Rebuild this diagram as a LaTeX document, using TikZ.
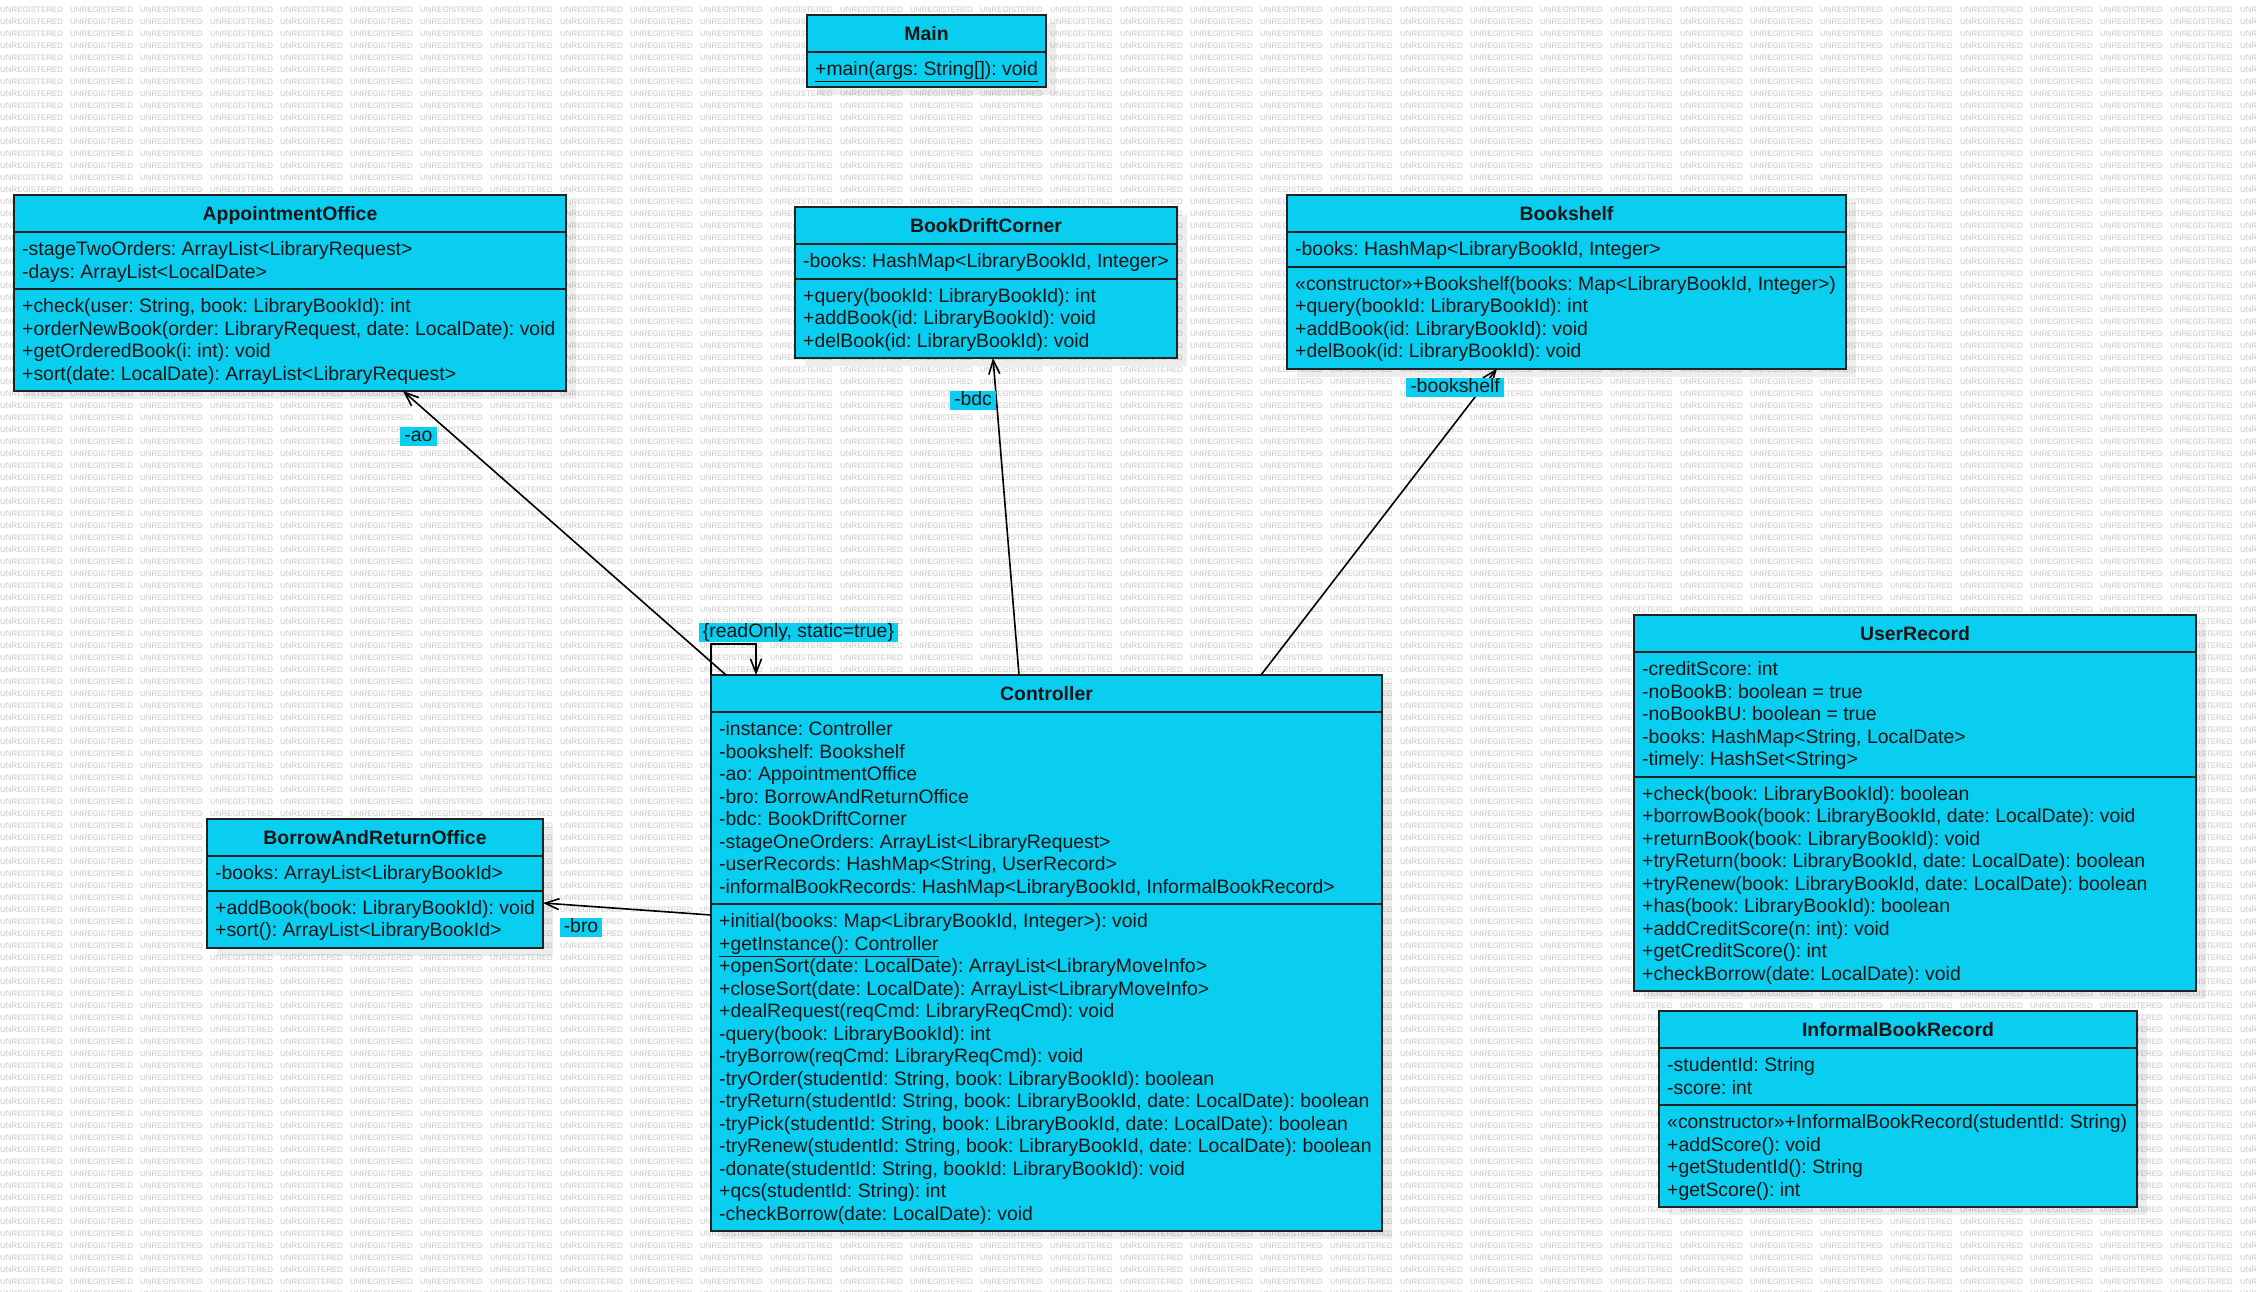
\documentclass[tikz,border=0pt]{standalone}
\usepackage{fontspec}
\setmainfont{Liberation Sans}
\usetikzlibrary{arrows.meta,calc}
\frenchspacing
\definecolor{umlcyan}{RGB}{10,206,240}
\definecolor{umledge}{RGB}{34,34,34}
\newcommand\membfont{\fontsize{19.4}{22.5}\selectfont\frenchspacing}
\newcommand\titlefont{\fontsize{19.4}{22.5}\selectfont\bfseries}
\newcommand\wmword{\makebox[70pt][l]{UNREGISTERED}}
\newcommand\wmfour{\wmword\wmword\wmword\wmword}
\newcommand\wmrow{\wmfour\wmfour\wmfour\wmfour\wmfour\wmfour\wmfour\wmfour\wmword}
\tikzset{
  classbox/.style={draw=umledge, line width=2pt, fill=umlcyan, inner sep=0pt, outer sep=0pt, rectangle},
  sepline/.style={draw=umledge, line width=2pt},
  shadowbox/.style={fill=black, fill opacity=0.07},
  titletext/.style={font=\titlefont, inner sep=0pt, anchor=base, text=black!92},
  membertext/.style={font=\membfont, inner sep=0pt, anchor=north west, align=left, text=black!92},
  assoc/.style={draw=black, line width=1.6pt, -{Straight Barb[length=14pt,width=11pt,line width=1.6pt]}},
  rolelabel/.style={fill=umlcyan, font=\membfont, inner xsep=4pt, inner ysep=0pt, text height=14.5pt, text depth=4.5pt, text=black!92},
  watermark/.style={font=\fontsize{7.9}{9}\selectfont, text=black!22, inner sep=0pt, anchor=base west}
}
% #1 name, #2 x, #3 y, #4 width, #5 title, #6 attr lines, #7 attrs, #8 op lines, #9 ops
\newcommand\umlclass[9]{%
  \pgfmathsetmacro\clsA{#6*22.5+12}%
  \pgfmathsetmacro\clsM{#8*22.5+12}%
  \pgfmathsetmacro\clsH{37+\clsA+\clsM}%
  \fill[shadowbox] (#2+10,#3+8) rectangle ++(#4,\clsH);%
  \node[classbox, minimum width=#4pt, minimum height=\clsH pt, anchor=north west] (#1) at (#2,#3) {};%
  \draw[sepline] (#2,#3+37) -- ++(#4,0);%
  \draw[sepline] (#2,#3+37+\clsA) -- ++(#4,0);%
  \node[titletext] (#1-title) at (#2+#4/2,#3+25) {#5};%
  \node[membertext] (#1-attrs) at (#2+8,#3+45) {#7};%
  \node[membertext] (#1-ops) at (#2+8,#3+45+\clsA) {#9};%
}
\begin{document}
\begin{tikzpicture}[x=1pt,y=-1pt]
\useasboundingbox (0,0) rectangle (2256,1291);
\fill[white] (0,0) rectangle (2256,1291);
\begin{scope}
  \clip (0,0) rectangle (2256,1291);
  \foreach \k in {1,...,108} {\node[watermark] (wm\k) at (0,12*\k) {\wmrow};}
\end{scope}

% Main
\fill[shadowbox] (817,23) rectangle ++(239,71.5);
\node[classbox, minimum width=239pt, minimum height=71.5pt, anchor=north west] (main) at (807,15) {};
\draw[sepline] (807,52) -- ++(239,0);
\node[titletext] (main-title) at (926.5,40) {Main};
\node[membertext] (main-ops) at (815,60) {\strut\underline{+main(args: String[]): void}};

\umlclass{ao}{14}{195}{552}{AppointmentOffice}{2}{%
\strut-stageTwoOrders: ArrayList<LibraryRequest>\\
\strut-days: ArrayList<LocalDate>}{4}{%
\strut+check(user: String, book: LibraryBookId): int\\
\strut+orderNewBook(order: LibraryRequest, date: LocalDate): void\\
\strut+getOrderedBook(i: int): void\\
\strut+sort(date: LocalDate): ArrayList<LibraryRequest>}

\umlclass{bdc}{795}{207}{382}{BookDriftCorner}{1}{%
\strut-books: HashMap<LibraryBookId, Integer>}{3}{%
\strut+query(bookId: LibraryBookId): int\\
\strut+addBook(id: LibraryBookId): void\\
\strut+delBook(id: LibraryBookId): void}

\umlclass{bs}{1287}{195}{559}{Bookshelf}{1}{%
\strut-books: HashMap<LibraryBookId, Integer>}{4}{%
\strut«constructor»+Bookshelf(books: Map<LibraryBookId, Integer>)\\
\strut+query(bookId: LibraryBookId): int\\
\strut+addBook(id: LibraryBookId): void\\
\strut+delBook(id: LibraryBookId): void}

\umlclass{ctrl}{711}{675}{671}{Controller}{8}{%
\strut-instance: Controller\\
\strut-bookshelf: Bookshelf\\
\strut-ao: AppointmentOffice\\
\strut-bro: BorrowAndReturnOffice\\
\strut-bdc: BookDriftCorner\\
\strut-stageOneOrders: ArrayList<LibraryRequest>\\
\strut-userRecords: HashMap<String, UserRecord>\\
\strut-informalBookRecords: HashMap<LibraryBookId, InformalBookRecord>}{14}{%
\strut+initial(books: Map<LibraryBookId, Integer>): void\\
\strut\underline{+getInstance(): Controller}\\
\strut+openSort(date: LocalDate): ArrayList<LibraryMoveInfo>\\
\strut+closeSort(date: LocalDate): ArrayList<LibraryMoveInfo>\\
\strut+dealRequest(reqCmd: LibraryReqCmd): void\\
\strut-query(book: LibraryBookId): int\\
\strut-tryBorrow(reqCmd: LibraryReqCmd): void\\
\strut-tryOrder(studentId: String, book: LibraryBookId): boolean\\
\strut-tryReturn(studentId: String, book: LibraryBookId, date: LocalDate): boolean\\
\strut-tryPick(studentId: String, book: LibraryBookId, date: LocalDate): boolean\\
\strut-tryRenew(studentId: String, book: LibraryBookId, date: LocalDate): boolean\\
\strut-donate(studentId: String, bookId: LibraryBookId): void\\
\strut+qcs(studentId: String): int\\
\strut-checkBorrow(date: LocalDate): void}

\umlclass{baro}{207}{819}{336}{BorrowAndReturnOffice}{1}{%
\strut-books: ArrayList<LibraryBookId>}{2}{%
\strut+addBook(book: LibraryBookId): void\\
\strut+sort(): ArrayList<LibraryBookId>}

\umlclass{ur}{1634}{615}{562}{UserRecord}{5}{%
\strut-creditScore: int\\
\strut-noBookB: boolean = true\\
\strut-noBookBU: boolean = true\\
\strut-books: HashMap<String, LocalDate>\\
\strut-timely: HashSet<String>}{9}{%
\strut+check(book: LibraryBookId): boolean\\
\strut+borrowBook(book: LibraryBookId, date: LocalDate): void\\
\strut+returnBook(book: LibraryBookId): void\\
\strut+tryReturn(book: LibraryBookId, date: LocalDate): boolean\\
\strut+tryRenew(book: LibraryBookId, date: LocalDate): boolean\\
\strut+has(book: LibraryBookId): boolean\\
\strut+addCreditScore(n: int): void\\
\strut+getCreditScore(): int\\
\strut+checkBorrow(date: LocalDate): void}

\umlclass{ibr}{1659}{1011}{478}{InformalBookRecord}{2}{%
\strut-studentId: String\\
\strut-score: int}{4}{%
\strut«constructor»+InformalBookRecord(studentId: String)\\
\strut+addScore(): void\\
\strut+getStudentId(): String\\
\strut+getScore(): int}

% connectors
\draw[assoc] ($(ctrl.north west)+(15,0)$) -- ($(ao.south west)+(389,0)$);
\draw[assoc] ($(ctrl.north west)+(308,0)$) -- ($(bdc.south west)+(198,0)$);
\draw[assoc] ($(ctrl.north west)+(550,0)$) -- ($(bs.south west)+(210,0)$);
\draw[assoc] ($(ctrl.north west)+(0,240)$) -- ($(baro.north east)+(0,84)$);
\draw[assoc] (ctrl.north west) -- ++(0,-31) -| ($(ctrl.north west)+(45,0)$);

% role labels
\node[rolelabel] (lab-ao) at (418.5,436.5) {-ao};
\node[rolelabel] (lab-bdc) at (973,400.5) {-bdc};
\node[rolelabel] (lab-bs) at (1455,387.5) {-bookshelf};
\node[rolelabel] (lab-bro) at (581,927) {-bro};
\node[rolelabel] (lab-self) at (798.5,632.5) {\{readOnly, static=true\}};
\end{tikzpicture}
\end{document}
